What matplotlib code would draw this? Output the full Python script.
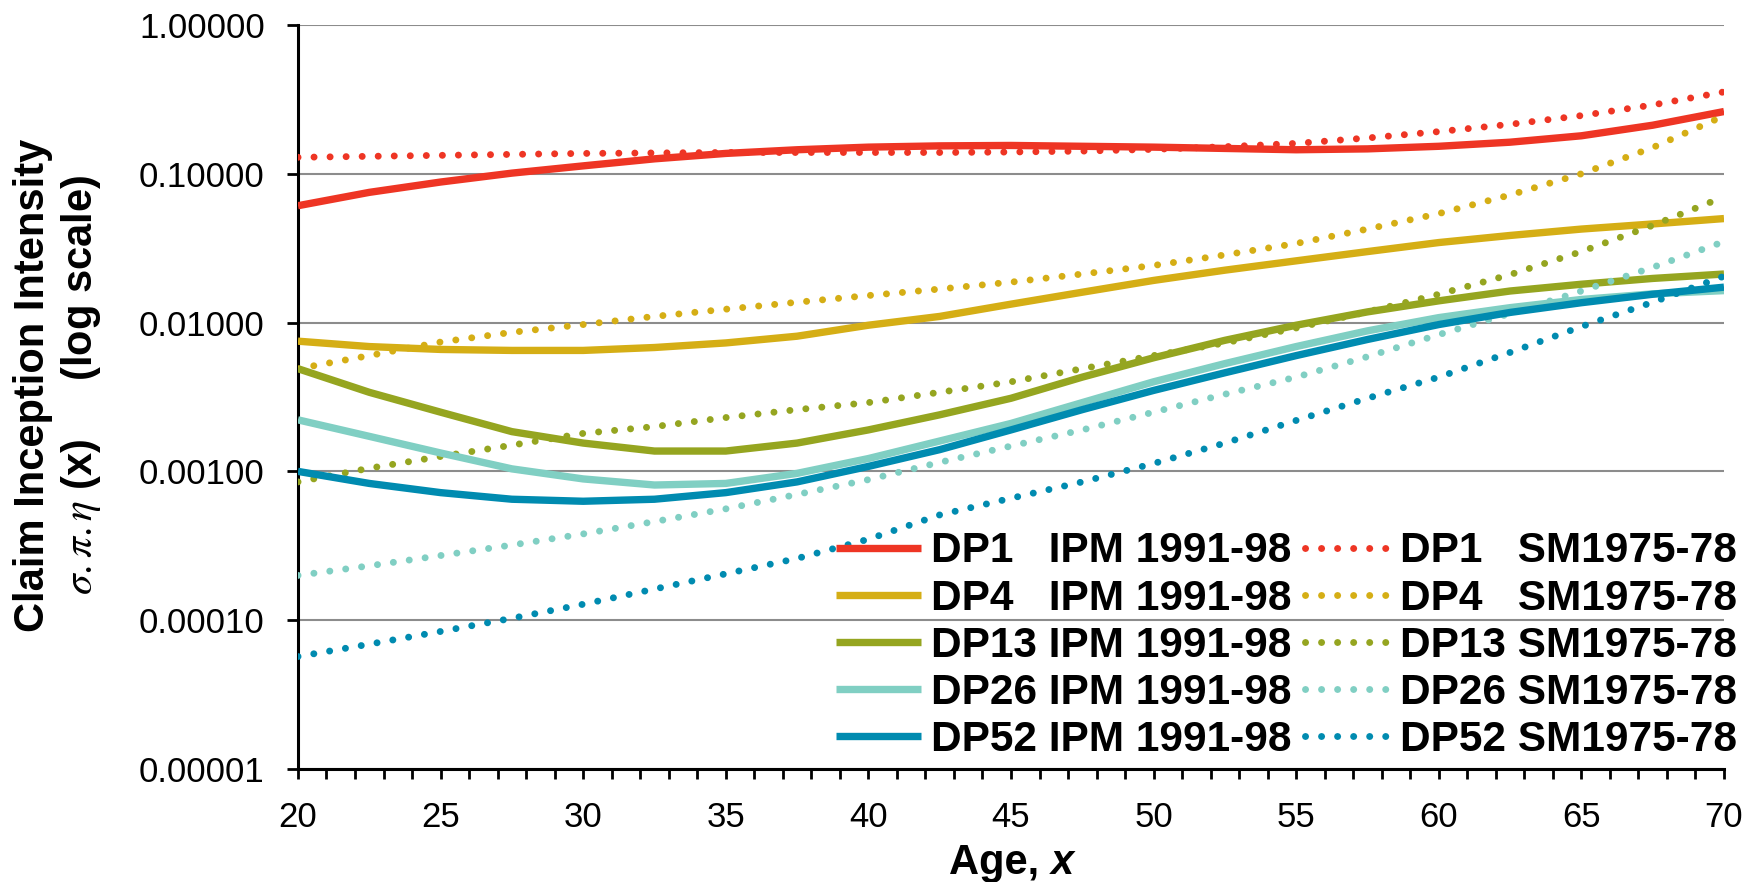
import numpy as np
import matplotlib
matplotlib.use('Agg')
import matplotlib.pyplot as plt
from matplotlib.ticker import FixedLocator, MultipleLocator, FuncFormatter
from matplotlib.offsetbox import TextArea, HPacker, AnchoredOffsetbox

plt.rcParams['font.family'] = ['Liberation Sans', 'DejaVu Sans']
plt.rcParams['mathtext.fontset'] = 'stix'

# ages (x axis)
ages = [20, 22.5, 25, 27.5, 30, 32.5, 35, 37.5, 40, 42.5, 45,
        47.5, 50, 52.5, 55, 57.5, 60, 62.5, 65, 67.5, 70]

# IPM 1991-98 claim inception intensities
dp1_ipm = [0.061, 0.075, 0.088, 0.101, 0.113, 0.126, 0.137, 0.145, 0.151, 0.154, 0.155,
           0.153, 0.151, 0.148, 0.145, 0.147, 0.153, 0.163, 0.180, 0.212, 0.262]
dp4_ipm = [0.0075, 0.0069, 0.0066, 0.0065, 0.0065, 0.0068, 0.0073, 0.0081, 0.0096, 0.0110, 0.0133,
           0.0160, 0.0192, 0.0225, 0.0260, 0.0300, 0.0345, 0.0385, 0.0425, 0.0460, 0.0500]
dp13_ipm = [0.0049, 0.0034, 0.0025, 0.00185, 0.00155, 0.00137, 0.00137, 0.00155, 0.0019, 0.0024, 0.0031,
            0.0043, 0.0058, 0.0076, 0.0096, 0.0118, 0.0140, 0.0163, 0.0181, 0.0198, 0.0212]
dp26_ipm = [0.00222, 0.00172, 0.00133, 0.00104, 0.00089, 0.00081, 0.00083, 0.00097, 0.00122, 0.0016, 0.0021,
            0.0029, 0.0040, 0.0053, 0.0069, 0.0088, 0.0108, 0.0126, 0.0143, 0.0156, 0.0164]
dp52_ipm = [0.0010, 0.00083, 0.00072, 0.00065, 0.00063, 0.00065, 0.00072, 0.00085, 0.00108, 0.0014, 0.0019,
            0.0026, 0.0035, 0.0046, 0.0060, 0.0077, 0.0097, 0.0117, 0.0136, 0.0155, 0.0173]

# SM1975-78 claim inception intensities
dp1_sm = [0.129, 0.131, 0.133, 0.135, 0.137, 0.138, 0.139, 0.139, 0.139, 0.139, 0.140,
          0.142, 0.146, 0.152, 0.160, 0.174, 0.192, 0.215, 0.246, 0.290, 0.355]
dp4_sm = [0.0049, 0.0060, 0.0074, 0.0086, 0.0097, 0.0110, 0.0123, 0.0137, 0.0152, 0.0168, 0.0187,
          0.0212, 0.0242, 0.0285, 0.0340, 0.0425, 0.0540, 0.0720, 0.100, 0.150, 0.245]
dp13_sm = [0.00085, 0.00105, 0.00126, 0.0015, 0.0018, 0.0020, 0.0023, 0.0026, 0.0029, 0.0034, 0.0040,
           0.0049, 0.0060, 0.0073, 0.0092, 0.0118, 0.0155, 0.0210, 0.0300, 0.0450, 0.0700]
dp26_sm = [0.00020, 0.000232, 0.000272, 0.00032, 0.00038, 0.00046, 0.00056, 0.00070, 0.00088, 0.00115, 0.00148,
           0.0019, 0.0025, 0.0033, 0.0043, 0.0059, 0.0083, 0.0115, 0.0163, 0.0235, 0.0350]
dp52_sm = [5.7e-5, 6.9e-5, 8.4e-5, 0.000103, 0.000128, 0.000162, 0.000205, 0.00026, 0.00035, 0.00051, 0.00066,
           0.00085, 0.00113, 0.00155, 0.0022, 0.0031, 0.0043, 0.0063, 0.0094, 0.0137, 0.0205]

names = ['DP1   ', 'DP4   ', 'DP13 ', 'DP26 ', 'DP52 ']
colors = ['#EE3524', '#D5AE15', '#95A520', '#80CFC3', '#008BB0']
ipm = [dp1_ipm, dp4_ipm, dp13_ipm, dp26_ipm, dp52_ipm]
sm = [dp1_sm, dp4_sm, dp13_sm, dp26_sm, dp52_sm]

fig = plt.figure(figsize=(17.59, 8.82), dpi=100)
ax = fig.add_axes([0.1694, 0.1281, 0.8107, 0.8436])

h_ipm = []
h_sm = []
for nm, c, y1, y2 in zip(names, colors, ipm, sm):
    l1, = ax.plot(ages, y1, color=c, lw=5.3, solid_capstyle='butt', solid_joinstyle='round',
                  label=nm + 'IPM 1991-98', zorder=3)
    l2, = ax.plot(ages, y2, color=c, lw=5.0, linestyle=(0, (0.01, 2.3)), dash_capstyle='round',
                  label=nm + 'SM1975-78', zorder=3)
    h_ipm.append(l1)
    h_sm.append(l2)

ax.set_yscale('log')
ax.set_xlim(20, 70)
ax.set_ylim(1e-5, 1)

decades = [1e-5, 1e-4, 1e-3, 1e-2, 1e-1, 1]
ax.yaxis.set_major_locator(FixedLocator(decades))
ax.yaxis.set_minor_locator(FixedLocator([]))
ax.yaxis.set_major_formatter(FuncFormatter(lambda v, p: '%.5f' % v))
ax.xaxis.set_major_locator(MultipleLocator(5))
ax.xaxis.set_minor_locator(MultipleLocator(1))

ax.grid(axis='y', which='major', color='#8c8c8c', lw=1.5, zorder=1)
ax.set_axisbelow(True)

for s in ['top', 'right']:
    ax.spines[s].set_visible(False)
for s in ['left', 'bottom']:
    ax.spines[s].set_linewidth(2.2)
    ax.spines[s].set_color('black')

ax.tick_params(axis='y', which='major', direction='out', length=8, width=2, pad=16, labelsize=25)
ax.tick_params(axis='x', which='both', direction='out', length=7, width=2)
ax.tick_params(axis='x', which='major', pad=16, labelsize=25)

# y axis title, two lines
fig.text(0.033, 0.5635, 'Claim Inception Intensity\n' + r'$\sigma.\pi.\eta$ (x)     (log scale)',
         rotation=90, ha='center', va='center', multialignment='center',
         fontsize=30, fontweight='bold', linespacing=1.2)

# x axis title with italic x
t1 = TextArea('Age, ', textprops=dict(fontsize=30, fontweight='bold'))
t2 = TextArea('x', textprops=dict(fontsize=30, fontweight='bold', fontstyle='italic'))
box = HPacker(children=[t1, t2], align='baseline', pad=0, sep=0)
ab = AnchoredOffsetbox(loc='center', child=box, frameon=False, pad=0, borderpad=0,
                       bbox_to_anchor=(0.575, 0.022), bbox_transform=fig.transFigure)
fig.add_artist(ab)

leg = fig.legend(h_ipm + h_sm, [h.get_label() for h in h_ipm + h_sm],
                 ncol=2, loc='lower right', bbox_to_anchor=(0.9875, 0.138),
                 frameon=False, borderpad=0, borderaxespad=0,
                 prop=dict(size=30.5, weight='bold'), handlelength=2.0, handletextpad=0.25,
                 columnspacing=0.3, labelspacing=0.17)

fig.savefig('out.png', dpi=100)
